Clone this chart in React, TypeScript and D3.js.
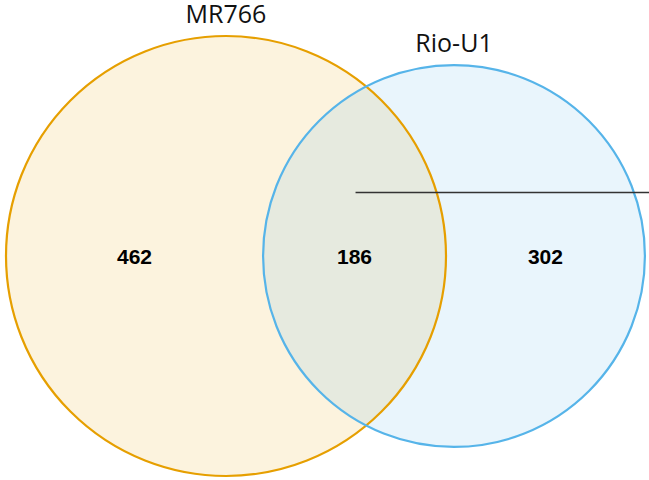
import React from "react";
import * as d3 from "d3";

const setNames = ["MR766", "Rio-U1"];
const onlyCounts = [462, 302];
const sharedCount = 186;
const setColors = ["#E69F00", "#56B4E9"];

const W = 649;
const H = 480;

export default function App() {
  const totals = onlyCounts.map((c) => c + sharedCount);
  const r = d3.scaleSqrt().domain([0, d3.max(totals) as number]).range([0, 220]);
  const r1 = r(totals[0]);
  const r2 = r(totals[1]);
  const cy = 256;
  const cx1 = 6 + r1;
  const dist = 228;
  const cx2 = cx1 + dist;
  const centers = [cx1, cx2];
  const radii = [r1, r2];
  const left1 = cx1 - r1, right1 = cx1 + r1, left2 = cx2 - r2, right2 = cx2 + r2;
  const numX = [(left1 + left2) / 2, (left2 + right1) / 2, (right1 + right2) / 2];
  const numVals = [onlyCounts[0], sharedCount, onlyCounts[1]];
  const labelY = [cy - r1 - 13, cy - r2 - 13];

  return (
    <div style={{ position: "fixed", left: 0, top: 0, width: W, height: H, overflow: "hidden" }}>
      <svg width={W} height={H} style={{ display: "block" }}>
        <rect width={W} height={H} fill="#fff" />
        {centers.map((cx, i) => (
          <circle key={"f" + i} cx={cx} cy={cy} r={radii[i]} fill={setColors[i]} fillOpacity={0.13} stroke="none" />
        ))}
        {centers.map((cx, i) => (
          <circle key={"s" + i} cx={cx} cy={cy} r={radii[i]} fill="none" stroke={setColors[i]} strokeWidth={2.2} />
        ))}
        <line x1={numX[1] + 1} x2={W} y1={192.5} y2={192.5} stroke="#333" strokeWidth={1.4} />
        {numVals.map((v, i) => (
          <text key={"n" + i} x={numX[i]} y={cy + 8} textAnchor="middle" fontFamily="Liberation Sans, Arial, sans-serif" fontWeight="bold" fontSize={21} fill="#000">
            {v}
          </text>
        ))}
        {setNames.map((n, i) => (
          <text key={"l" + i} x={centers[i]} y={labelY[i]} textAnchor="middle" fontFamily="Open Sans, sans-serif" fontSize={25} fill="#111">
            {n}
          </text>
        ))}
      </svg>
    </div>
  );
}
